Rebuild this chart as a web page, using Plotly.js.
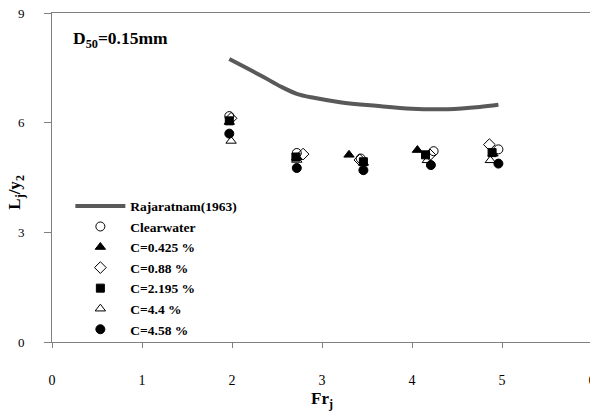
<!DOCTYPE html>
<html><head><meta charset="utf-8">
<script src="https://cdn.plot.ly/plotly-3.0.1.min.js"></script>
<style>html,body{margin:0;padding:0;overflow:hidden;background:#fff}#c{width:600px;height:415px}</style>
</head><body><div id="c"></div>
<script>
const rajX = [1.97, 2.35, 2.54, 2.72, 2.91, 3.2, 3.6, 4.0, 4.4, 4.75, 4.96];
const rajY = [7.74, 7.25, 6.99, 6.79, 6.68, 6.56, 6.46, 6.38, 6.37, 6.43, 6.49];

const clearX = [1.97, 2.72, 3.43, 4.24, 4.96];
const clearY = [6.18, 5.17, 5.02, 5.22, 5.27];
const c0425X = [1.97, 2.72, 3.30, 4.06, 4.90];
const c0425Y = [6.02, 5.05, 5.12, 5.25, 5.15];
const c088X = [1.99, 2.79, 3.42, 4.20, 4.86];
const c088Y = [6.12, 5.14, 4.98, 5.12, 5.40];
const c2195X = [1.97, 2.71, 3.46, 4.15, 4.89];
const c2195Y = [6.05, 5.06, 4.93, 5.12, 5.18];
const c44X = [1.99, 2.72, 3.46, 4.17, 4.87];
const c44Y = [5.50, 4.98, 4.90, 4.97, 4.97];
const c458X = [1.97, 2.72, 3.46, 4.21, 4.96];
const c458Y = [5.70, 4.76, 4.70, 4.84, 4.88];

const serif = 'Liberation Serif, Times New Roman, serif';
function pts(name, x, y, symbol, size) {
  return {type:'scatter', mode:'markers', name:name, x:x, y:y,
    marker:{symbol:symbol, size:size||8, color:'#000', line:{color:'#000', width:1}}};
}
const data = [
  {type:'scatter', mode:'lines', name:'Rajaratnam(1963)', x:rajX, y:rajY,
   line:{color:'#595959', width:4, shape:'spline', smoothing:1}},
  pts('Clearwater', clearX, clearY, 'circle-open', 9),
  pts('C=0.425 %', c0425X, c0425Y, 'triangle-up', 9),
  pts('C=0.88 %', c088X, c088Y, 'diamond-open', 9),
  pts('C=2.195 %', c2195X, c2195Y, 'square', 8),
  pts('C=4.4 %', c44X, c44Y, 'triangle-up-open', 9),
  pts('C=4.58 %', c458X, c458Y, 'circle', 9)
];
const layout = {
  width:600, height:415,
  margin:{l:52, r:8, t:13, b:73},
  paper_bgcolor:'#fff', plot_bgcolor:'#fff',
  font:{family:serif, color:'#000', size:13},
  showlegend:true,
  legend:{x:0.034, y:0.46, xanchor:'left', yanchor:'top', bgcolor:'rgba(0,0,0,0)',
    font:{family:serif, size:13.5, weight:'bold', color:'#000'}, tracegroupgap:0, itemwidth:50},
  xaxis:{range:[0,6], dtick:1, tick0:0, showgrid:false, zeroline:false,
    showline:true, linecolor:'#808080', linewidth:1, mirror:true,
    ticks:'outside', ticklen:5, tickcolor:'#808080', ticklabelstandoff:20,
    tickfont:{family:serif, size:14, color:'#000'},
    title:{text:'Fr<sub>j</sub>', font:{family:serif, size:17, weight:'bold', color:'#000'}, standoff:5}},
  yaxis:{range:[0,9], dtick:3, tick0:0, showgrid:false, zeroline:false,
    showline:true, linecolor:'#808080', linewidth:1, mirror:true,
    ticks:'outside', ticklen:7, tickcolor:'#808080', ticklabelstandoff:17,
    tickfont:{family:serif, size:13, color:'#000'}},
  annotations:[
    {xref:'paper', yref:'paper', x:0.035, y:0.918, xanchor:'left', yanchor:'middle',
     showarrow:false, text:'D<sub>50</sub>=0.15mm', font:{family:serif, size:17.5, weight:'bold', color:'#000'}},
    {xref:'paper', yref:'paper', x:-0.066, y:0.455, xanchor:'center', yanchor:'middle', textangle:-90,
     showarrow:false, text:'L<sub>j</sub>/y<sub>2</sub>', font:{family:serif, size:17, weight:'bold', color:'#000'}}
  ]
};
Plotly.newPlot('c', data, layout, {displayModeBar:false, staticPlot:true});
</script></body></html>
